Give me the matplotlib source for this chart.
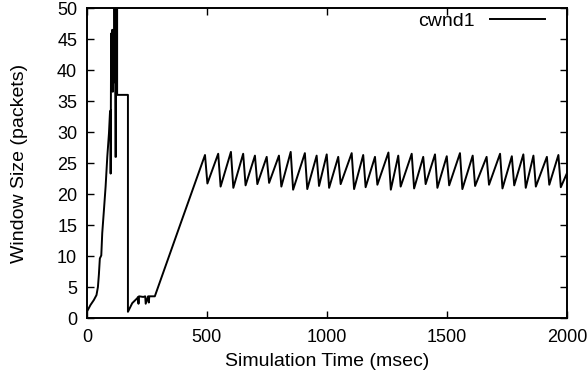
import numpy as np
import matplotlib
matplotlib.use("Agg")
import matplotlib.pyplot as plt

# DATA
# slow start, losses and recovery, time in msec
early_t = [0, 15, 29, 40, 46, 50, 54, 60, 64, 71, 78, 85, 92, 96, 99, 99, 101,
           104, 106, 108, 110, 112, 115, 118, 119, 121, 122, 126, 126, 171, 171,
           189, 210, 213, 215, 217, 235, 243, 245, 255, 258, 260, 283, 390]
early_w = [1.0, 2.1, 2.9, 3.7, 5.0, 7.0, 9.6, 10.1, 13.7, 17.4, 21.2, 26.0, 29.8, 33.0, 33.5, 23.3, 45.9,
           38.0, 46.5, 36.5, 44.0, 38.0, 52.0, 40.0, 26.0, 26.0, 52.0, 52.0, 36.0, 36.0, 1.0,
           2.4, 3.2, 3.4, 2.3, 3.5, 3.4, 3.5, 2.3, 3.5, 2.5, 3.5, 3.5, 15.2]

# congestion avoidance sawtooth
peak_t = [492, 547, 600, 651, 700, 749, 800, 849, 908, 957, 999, 1047, 1103, 1151, 1200,
          1256, 1297, 1353, 1401, 1450, 1499, 1554, 1607, 1665, 1721, 1770, 1818, 1860, 1916, 1964]
peak_w = [26.3, 26.5, 26.8, 26.5, 26.2, 26.0, 26.2, 26.8, 26.6, 26.2, 26.4, 26.0, 26.6, 26.3, 26.0,
          26.7, 26.2, 26.5, 26.0, 26.4, 26.1, 26.6, 26.2, 26.0, 26.5, 26.1, 26.4, 26.2, 26.0, 26.3]
trough_t = [502, 557, 610, 661, 710, 759, 810, 859, 918, 967, 1009, 1057, 1113, 1161, 1210,
            1266, 1307, 1363, 1411, 1460, 1509, 1564, 1617, 1675, 1731, 1780, 1828, 1870, 1926, 1974]
trough_w = [21.7, 21.2, 21.0, 21.4, 21.6, 21.8, 21.2, 20.7, 20.8, 21.3, 21.0, 21.6, 20.8, 21.1, 21.5,
            20.7, 21.2, 20.9, 21.6, 21.0, 21.4, 20.8, 21.3, 21.5, 20.9, 21.4, 21.0, 21.2, 21.5, 21.1]
end_t = [2000]
end_w = [23.4]

saw_t = np.column_stack([peak_t, trough_t]).ravel()
saw_w = np.column_stack([peak_w, trough_w]).ravel()
t = np.concatenate([early_t, saw_t, end_t])
w = np.concatenate([early_w, saw_w, end_w])

plt.rcParams['font.family'] = ['Liberation Sans', 'DejaVu Sans']

fig = plt.figure(figsize=(5.87, 3.85), dpi=100)
ax = fig.add_axes([0.148, 0.174, 0.818, 0.805])
ax.plot(t, w, color='black', linewidth=1.4, label="cwnd1")

ax.set_xlim(0, 2000)
ax.set_ylim(0, 50)
ax.set_xticks([0, 500, 1000, 1500, 2000])
ax.set_yticks(np.arange(0, 51, 5))
ax.tick_params(direction='in', length=5, width=1.0, top=True, right=True,
               labelsize=13)
ax.tick_params(axis='x', pad=8)
ax.tick_params(axis='y', pad=7)
for s in ax.spines.values():
    s.set_linewidth(1.4)

ax.set_xlabel("Simulation Time (msec)", fontsize=14, labelpad=5)
ax.set_ylabel("Window Size (packets)", fontsize=14, labelpad=21)

leg = ax.legend(loc='upper right', bbox_to_anchor=(0.97, 1.012), frameon=False,
                fontsize=14, handlelength=2.8, markerfirst=False,
                borderaxespad=0, handletextpad=0.8)

fig.savefig("out.png", dpi=100)
